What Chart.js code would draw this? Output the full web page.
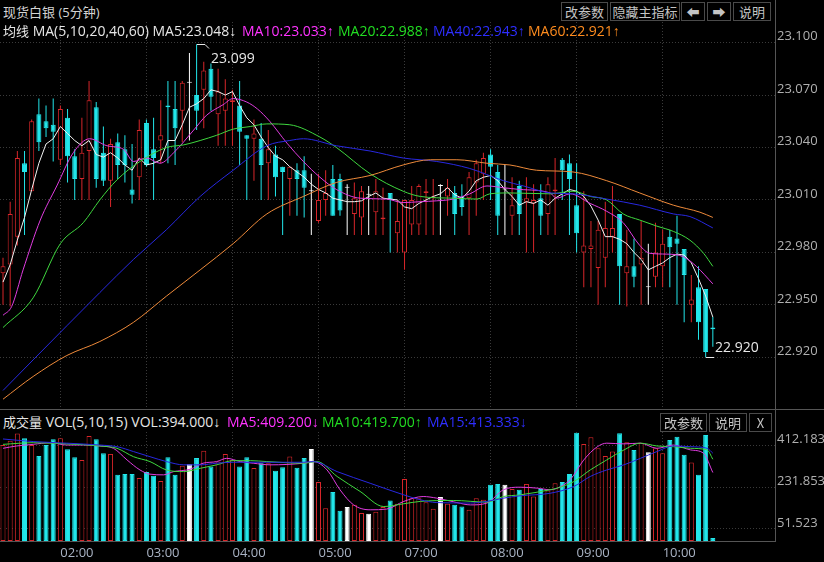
<!DOCTYPE html>
<html>
<head>
<meta charset="utf-8">
<script src="https://cdn.jsdelivr.net/npm/chart.js@4.4.1/dist/chart.umd.min.js"></script>
<style>
  html, body { margin: 0; padding: 0; background: #000; }
  body { width: 824px; height: 562px; position: relative; overflow: hidden;
         font-family: "Open Sans", "Liberation Sans", "Noto Sans CJK SC", sans-serif; color: #dcdcdc; }
  canvas { position: absolute; left: 0; }
  .t { position: absolute; white-space: nowrap; font-size: 14px; height: 20px; line-height: 20px; }
  .t .cn { font-size: 13px; font-family: "Noto Sans CJK SC", sans-serif; }
  .btn { position: absolute; height: 19px; line-height: 17px; border: 1px solid #4a4a4a; color: #c4c4c4;
         font-size: 13px; text-align: center; box-sizing: border-box; font-family: "Noto Sans CJK SC", sans-serif; }
  .ln { position: absolute; background: #555; }
</style>
</head>
<body>
<canvas id="main" width="824" height="387" style="top:22px"></canvas>
<canvas id="vol" width="824" height="130" style="top:432px"></canvas>

<div class="ln" style="left:775px;top:0;width:1px;height:541px"></div>
<div class="ln" style="left:0;top:409px;width:824px;height:1px"></div>
<div class="ln" style="left:0;top:541px;width:776px;height:1px"></div>

<div class="t" style="left:3px;top:2px;color:#d4d4d4;font-size:13px"><span class="cn">现货白银</span> (5<span class="cn">分钟</span>)</div>
<div class="btn" style="left:561px;top:2px;width:47px">改参数</div>
<div class="btn" style="left:610px;top:2px;width:70px">隐藏主指标</div>
<div class="btn" style="left:681px;top:2px;width:24px">⬅</div>
<div class="btn" style="left:707px;top:2px;width:24px">➡</div>
<div class="btn" style="left:733px;top:2px;width:38px">说明</div>

<div class="t" style="left:3px;top:21px;color:#e6e6e6"><span class="cn">均线</span> MA(5,10,20,40,60) MA5:23.048↓</div>
<div class="t" style="left:242px;top:21px;color:#ff33ff">MA10:23.033↑</div>
<div class="t" style="left:338px;top:21px;color:#22dd22">MA20:22.988↑</div>
<div class="t" style="left:433px;top:21px;color:#2e2eff">MA40:22.943↑</div>
<div class="t" style="left:528px;top:21px;color:#ff8c1e">MA60:22.921↑</div>

<div class="t" style="left:3px;top:412px;color:#e6e6e6"><span class="cn">成交量</span> VOL(5,10,15) VOL:394.000↓</div>
<div class="t" style="left:227px;top:412px;color:#ff33ff">MA5:409.200↓</div>
<div class="t" style="left:322px;top:412px;color:#22dd22">MA10:419.700↑</div>
<div class="t" style="left:427px;top:412px;color:#2e2eff">MA15:413.333↓</div>
<div class="btn" style="left:660px;top:413px;width:47px">改参数</div>
<div class="btn" style="left:709px;top:413px;width:38px">说明</div>
<div class="btn" style="left:749px;top:413px;width:23px">X</div>

<script>
// 5-minute candles, oldest first
const open = [22.968, 22.973, 22.989, 23.031, 23.015, 23.059, 23.055, 23.053, 23.033, 23.057,
  23.035, 23.022, 23.038, 23.063, 23.037, 23.021, 23.043, 23.039, 23.016, 23.023,
  23.054, 23.039, 23.044, 23.064, 23.062, 23.061, 23.077, 23.070, 23.073, 23.085,
  23.059, 23.061, 23.066, 23.064, 23.047, 23.045, 23.045, 23.031, 23.036, 23.029,
  23.022, 23.027, 23.027, 23.015, 22.998, 23.010, 23.022, 23.022, 23.017, 23.002,
  23.000, 23.013, 23.003, 22.999, 23.014, 22.991, 22.980, 22.996, 22.996, 23.014,
  23.011, 23.018, 23.012, 23.014, 23.012, 23.011, 23.020, 23.025, 23.036, 23.026,
  23.016, 23.001, 23.018, 23.009, 23.008, 23.011, 23.002, 23.015, 23.033, 23.031,
  23.007, 22.980, 22.982, 22.971, 22.977, 22.989, 23.002, 22.968, 22.972, 22.973,
  22.960, 22.966, 22.972, 22.989, 22.988, 22.982, 22.950, 22.960, 22.959, 22.937];
const high = [22.977, 23.009, 23.038, 23.038, 23.056, 23.068, 23.064, 23.068, 23.064, 23.062,
  23.039, 23.057, 23.078, 23.066, 23.052, 23.045, 23.048, 23.047, 23.042, 23.056,
  23.056, 23.057, 23.067, 23.078, 23.078, 23.078, 23.094, 23.099, 23.089, 23.088,
  23.085, 23.079, 23.073, 23.078, 23.047, 23.056, 23.054, 23.050, 23.041, 23.029,
  23.029, 23.031, 23.035, 23.025, 23.025, 23.027, 23.030, 23.025, 23.019, 23.020,
  23.018, 23.018, 23.022, 23.017, 23.014, 23.010, 23.010, 23.018, 23.019, 23.022,
  23.022, 23.019, 23.022, 23.018, 23.019, 23.026, 23.033, 23.037, 23.039, 23.030,
  23.030, 23.023, 23.021, 23.023, 23.019, 23.019, 23.023, 23.034, 23.034, 23.036,
  23.031, 23.015, 22.998, 22.998, 23.009, 23.018, 23.002, 22.993, 22.988, 22.998,
  22.985, 22.997, 22.993, 22.993, 23.001, 22.982, 22.967, 22.972, 22.959, 22.943];
const low = [22.950, 22.949, 22.984, 22.990, 23.015, 23.038, 23.046, 23.032, 23.030, 23.020,
  23.010, 23.010, 23.010, 23.017, 23.018, 23.006, 23.022, 23.020, 23.008, 23.010,
  23.029, 23.010, 23.031, 23.031, 23.030, 23.043, 23.044, 23.050, 23.051, 23.061,
  23.041, 23.041, 23.041, 23.030, 23.010, 23.021, 23.010, 23.010, 23.012, 22.990,
  23.001, 23.001, 23.000, 22.990, 22.997, 23.001, 23.001, 23.001, 22.990, 22.990,
  22.990, 22.990, 22.990, 22.990, 22.980, 22.980, 22.970, 22.990, 22.990, 22.990,
  22.990, 22.990, 23.001, 22.990, 23.001, 22.990, 23.001, 23.010, 23.010, 22.990,
  22.990, 22.990, 22.990, 22.980, 22.980, 22.990, 22.990, 22.990, 23.010, 22.990,
  22.980, 22.960, 22.960, 22.950, 22.960, 22.980, 22.950, 22.949, 22.960, 22.950,
  22.950, 22.960, 22.960, 22.960, 22.950, 22.940, 22.940, 22.930, 22.920, 22.926];
const close = [22.972, 23.002, 23.034, 23.026, 23.055, 23.043, 23.051, 23.049, 23.062, 23.035,
  23.022, 23.037, 23.067, 23.022, 23.021, 23.042, 23.030, 23.030, 23.013, 23.050,
  23.030, 23.034, 23.047, 23.063, 23.051, 23.077, 23.077, 23.061, 23.084, 23.069,
  23.072, 23.068, 23.067, 23.049, 23.045, 23.048, 23.030, 23.039, 23.023, 23.026,
  23.029, 23.022, 23.017, 23.015, 23.010, 23.014, 23.001, 23.004, 23.017, 23.011,
  23.015, 23.013, 23.015, 23.000, 23.010, 22.998, 23.010, 23.010, 23.018, 23.015,
  23.012, 23.018, 23.017, 23.002, 23.006, 23.023, 23.031, 23.034, 23.029, 23.001,
  23.016, 23.007, 23.002, 23.011, 23.010, 23.001, 23.019, 23.016, 23.027, 23.022,
  22.991, 22.984, 22.984, 22.993, 22.994, 22.994, 22.972, 22.972, 22.966, 22.977,
  22.960, 22.980, 22.985, 22.983, 22.985, 22.967, 22.953, 22.940, 22.923, 22.936];
const volume = [412, 430, 462, 441, 412, 365, 412, 437, 441, 394,
  360, 348, 451, 437, 377, 374, 284, 288, 288, 270,
  296, 280, 258, 360, 284, 323, 330, 356, 387, 320,
  341, 374, 348, 320, 360, 313, 334, 334, 302, 317,
  363, 315, 356, 395, 253, 141, 210, 130, 146, 156,
  120, 117, 126, 146, 174, 160, 266, 184, 184, 166,
  138, 189, 160, 156, 148, 134, 184, 177, 241, 245,
  241, 223, 220, 245, 191, 223, 217, 248, 253, 288,
  465, 416, 445, 398, 365, 384, 463, 424, 391, 422,
  381, 398, 377, 434, 448, 370, 337, 284, 455, 13];

// moving averages (x = candle index)
const ma5 = [22.963, 22.973, 22.987, 23.000, 23.016, 23.031, 23.042, 23.045, 23.052, 23.048,
  23.044, 23.041, 23.044, 23.036, 23.0345, 23.037, 23.034, 23.030, 23.027, 23.034,
  23.030, 23.031, 23.033, 23.044, 23.044, 23.053, 23.063, 23.065, 23.068, 23.073,
  23.072, 23.070, 23.072, 23.064, 23.057, 23.053, 23.046, 23.040, 23.035, 23.033,
  23.029, 23.026, 23.023, 23.019, 23.016, 23.014, 23.011, 23.010, 23.009, 23.009,
  23.0095, 23.012, 23.014, 23.011, 23.0105, 23.010, 23.006, 23.005, 23.008, 23.010,
  23.012, 23.0135, 23.017, 23.013, 23.011, 23.015, 23.021, 23.023, 23.024, 23.021,
  23.016, 23.012, 23.007, 23.009, 23.008, 23.010, 23.007, 23.011, 23.0135, 23.016,
  23.015, 23.012, 23.0065, 22.9985, 22.989, 22.989, 22.9875, 22.985, 22.980, 22.976,
  22.970, 22.972, 22.974, 22.977, 22.979, 22.9785, 22.974, 22.965, 22.955, 22.943];
const ma10X = [0, 1.2, 2.8, 5.2, 7.5, 9.8, 12.1, 14.5, 16.8, 18.2, 20.0, 21.9, 23.8, 26.6, 28.4, 30.7,
  32.1, 34, 35.5, 37.2, 39.6, 41.9, 44.2, 46.5, 49.8, 53.5, 55.8, 58.2, 60.5, 62.8, 65.1, 67.5,
  69.8, 72.1, 76.3, 77.2, 79.1, 81.9, 84.2, 86.5, 88.8, 90.2, 92.6, 94.9, 96.7, 99];
const ma10 = [22.944, 22.949, 22.970, 22.9985, 23.018, 23.037, 23.045, 23.041, 23.039, 23.032,
  23.034, 23.031, 23.037, 23.050, 23.0585, 23.0645, 23.068, 23.066, 23.062, 23.055,
  23.0425, 23.032, 23.023, 23.016, 23.011, 23.0105, 23.0085, 23.009, 23.0095, 23.0105,
  23.0135, 23.018, 23.017, 23.016, 23.014, 23.011, 23.0135, 23.008, 23.0035, 22.997,
  22.984, 22.9795, 22.979, 22.9775, 22.972, 22.962];
const ma20X = [0, 4.2, 8.0, 11.2, 13.5, 15.9, 19.1, 22.8, 25.2, 27.5, 29.8, 32.1, 34.5, 36.8, 40,
  44.2, 46.5, 51.2, 55.8, 58.2, 62.8, 66.1, 67.9, 70.7, 76.3, 79.5, 81.9, 84.2, 86.5, 88.8,
  91.2, 93.5, 95.8, 97.7, 99];
const ma20 = [22.937, 22.954, 22.985, 22.997, 23.010, 23.0215, 23.032, 23.040, 23.0415, 23.044,
  23.047, 23.0505, 23.052, 23.0535, 23.053, 23.046, 23.040, 23.025, 23.015, 23.012,
  23.011, 23.0105, 23.0135, 23.014, 23.0135, 23.015, 23.012, 23.010, 23.002, 22.9985,
  22.995, 22.992, 22.987, 22.9795, 22.972];
const ma40X = [0, 4.2, 8.9, 13.5, 18.2, 22.8, 27.5, 32.1, 36.8, 40, 41.9, 46.5, 51.2, 55.8, 60.5,
  65.1, 69.8, 72.6, 76.3, 79.5, 84.2, 88.8, 93.5, 95.8, 99];
const ma40 = [22.901, 22.9185, 22.938, 22.957, 22.976, 22.993, 23.012, 23.027, 23.041, 23.044,
  23.045, 23.041, 23.038, 23.034, 23.032, 23.028, 23.021, 23.018, 23.014, 23.0135,
  23.0105, 23.007, 23.002, 23.0005, 22.994];
const ma60X = [0, 4.2, 8.9, 13.5, 18.2, 22.8, 27.5, 32.1, 36.8, 41.9, 46.5, 51.2, 55.8, 59.6, 63.3,
  67.5, 70.7, 74.4, 79.5, 84.2, 88.8, 93.5, 97.2, 99];
const ma60 = [22.896, 22.909, 22.921, 22.929, 22.940, 22.955, 22.970, 22.985, 23.002, 23.012,
  23.020, 23.024, 23.030, 23.033, 23.033, 23.031, 23.030, 23.027, 23.026, 23.021,
  23.014, 23.007, 23.003, 23.000];

const vma5X = [0, 1.9, 4.2, 6.6, 8.9, 11.2, 13.5, 15.4, 17.3, 19.1, 20.5, 22.4, 23.8, 26.1, 27.9,
  29.8, 31.2, 33.1, 34.9, 37.3, 41.9, 43.3, 45.2, 47.0, 48.9, 51.2, 53.5, 55.9, 58.6, 60.5,
  63.3, 65.2, 67.5, 69.8, 72.1, 74.5, 76.3, 77.3, 79.1, 81.0, 82.9, 84.2, 86.6, 88.9, 91.2,
  93.5, 95.9, 97.7, 99];
const vma5 = [398, 408, 415, 422, 412, 412, 408, 398, 348, 305, 287, 284, 298, 308, 334, 341, 355,
  341, 334, 327, 334, 341, 305, 220, 155, 134, 137, 170, 191, 184, 165, 155, 163, 220, 231,
  227, 220, 227, 263, 348, 405, 420, 417, 420, 398, 412, 391, 377, 294];
const vma10X = [0, 4.2, 8.9, 13.5, 15.9, 18.2, 20.5, 22.8, 25.2, 27.5, 29.8, 32.1, 34.5, 36.8,
  41.9, 43.8, 46.6, 49.8, 53.1, 55.9, 58.2, 62.8, 67.5, 69.8, 72.1, 76.3, 77.3, 79.6, 81.9,
  84.2, 86.6, 88.9, 91.2, 93.5, 95.9, 98.2, 99];
const vma10 = [415, 422, 417, 408, 398, 362, 341, 305, 298, 312, 327, 345, 345, 341, 334, 341,
  277, 213, 148, 160, 170, 174, 167, 191, 198, 220, 227, 255, 305, 348, 391, 420, 408, 405,
  398, 391, 351];
const vma15X = [0, 4.2, 8.9, 13.5, 15.9, 18.2, 20.5, 22.8, 25.2, 27.5, 29.8, 32.1, 36.8, 41.9,
  43.3, 46.6, 51.2, 55.9, 58.2, 60.5, 65.2, 67.5, 69.8, 72.1, 76.3, 79.6, 81.9, 84.2, 86.6,
  88.9, 91.2, 93.5, 95.9, 98.2, 99];
const vma15 = [438, 427, 420, 412, 405, 384, 362, 341, 327, 327, 334, 338, 338, 338, 341, 298,
  248, 198, 177, 165, 163, 170, 184, 194, 205, 234, 277, 305, 327, 355, 384, 408, 405, 398, 377];

const hourIdx = [8, 20, 32, 44, 56, 68, 80, 92];
const hourLabels = ['02:00', '03:00', '04:00', '05:00', '07:00', '08:00', '09:00', '10:00'];
const priceTicks = [22.920, 22.950, 22.980, 23.010, 23.040, 23.070, 23.100];
const volTicks = [51.523, 231.853, 412.183];

const UP = '#d8262a', DOWN = '#22e6ea', FLAT = '#ffffff';
const GRID = '#3a3a3a';
Chart.defaults.font.family = '"Open Sans", "Noto Sans CJK SC", sans-serif';

const idx = close.map((_, i) => i);
const dirColor = idx.map(i => close[i] > open[i] ? UP : close[i] < open[i] ? DOWN : FLAT);
const fillColor = idx.map(i => dirColor[i] === UP ? '#000' : dirColor[i]);

const xMin = -0.42, xMax = 107.67;

function xScale(showLabels) {
  return {
    type: 'linear', min: xMin, max: xMax, offset: false,
    grid: { color: GRID, drawTicks: false, offset: false },
    border: { display: false, dash: [1, 2] },
    ticks: {
      display: showLabels, autoSkip: false, maxRotation: 0, align: 'start', padding: 4,
      color: '#a9b3c4', font: { size: 13 },
      callback: v => hourLabels[hourIdx.indexOf(v)]
    },
    afterBuildTicks: s => { s.ticks = hourIdx.map(v => ({ value: v })); },
    afterFit: s => { s.height = showLabels ? 21 : 0; s.paddingLeft = 0; s.paddingRight = 0; }
  };
}

function yScale(min, max, ticks) {
  return {
    type: 'linear', position: 'right', min, max,
    grid: { color: GRID, drawTicks: false },
    border: { display: false, dash: [1, 2] },
    ticks: { color: '#b0b0b0', font: { size: 13 }, padding: 2, labelOffset: -6,
      callback: v => v.toFixed(3) },
    afterBuildTicks: s => { s.ticks = ticks.map(v => ({ value: v })); },
    afterFit: s => { s.width = 49; s.paddingTop = 0; s.paddingBottom = 0; }
  };
}

function line(xs, ys, color, smooth) {
  return {
    type: 'line', data: xs.map((x, k) => ({ x, y: ys[k] })),
    borderColor: color, borderWidth: 1, pointRadius: 0, order: 0,
    cubicInterpolationMode: smooth ? 'monotone' : 'default', tension: 0
  };
}

const hiLo = {
  id: 'hiLo',
  afterDatasetsDraw(chart) {
    const { ctx, scales: { x, y } } = chart;
    let hi = 0, lo = 0;
    idx.forEach(i => { if (high[i] > high[hi]) hi = i; if (low[i] < low[lo]) lo = i; });
    ctx.save();
    ctx.strokeStyle = '#e8e8e8';
    ctx.fillStyle = '#e8e8e8';
    ctx.lineWidth = 1;
    ctx.font = '14px "Open Sans", sans-serif';
    ctx.textBaseline = 'middle';
    let px = Math.round(x.getPixelForValue(hi)), py = Math.round(y.getPixelForValue(high[hi])) + 0.5;
    ctx.beginPath();
    ctx.moveTo(px, py); ctx.lineTo(px + 8, py); ctx.lineTo(px + 12, py + 4);
    ctx.stroke();
    ctx.fillText(high[hi].toFixed(3), px + 14, py + 15);
    px = Math.round(x.getPixelForValue(lo)); py = Math.round(y.getPixelForValue(low[lo])) + 0.5;
    ctx.beginPath();
    ctx.moveTo(px, py); ctx.lineTo(px + 8, py);
    ctx.stroke();
    ctx.fillText(low[lo].toFixed(3), px + 9, py - 9);
    ctx.restore();
  }
};

const base = {
  responsive: false, animation: false, events: [],
  layout: { padding: 0 },
  plugins: { legend: { display: false }, tooltip: { enabled: false } }
};

new Chart(document.getElementById('main'), {
  type: 'bar',
  data: {
    datasets: [
      line(ma60X, ma60, '#ee8a3a', true),
      line(ma40X, ma40, '#2828e0', true),
      line(ma20X, ma20, '#3fd83f', true),
      line(ma10X, ma10, '#e03ce0', true),
      line(idx, ma5, '#f2f2f2', false),
      {
        data: idx.map(i => ({ x: i, y: [open[i], close[i]] })),
        backgroundColor: fillColor, borderColor: dirColor, borderWidth: 1,
        borderSkipped: false, inflateAmount: 0, barThickness: 5, minBarLength: 1,
        grouped: false, order: 1
      },
      {
        data: idx.map(i => ({ x: i, y: [low[i], high[i]] })),
        backgroundColor: dirColor, borderWidth: 0, inflateAmount: 0,
        barThickness: 1, grouped: false, order: 2
      }
    ]
  },
  options: { ...base, scales: { x: xScale(false), y: yScale(22.8904, 23.1118, priceTicks) } },
  plugins: [hiLo]
});

new Chart(document.getElementById('vol'), {
  type: 'bar',
  data: {
    datasets: [
      line(vma15X, vma15, '#2828e0', true),
      line(vma10X, vma10, '#3fd83f', true),
      line(vma5X, vma5, '#e03ce0', true),
      {
        data: idx.map(i => ({ x: i, y: volume[i] })),
        backgroundColor: fillColor, borderColor: dirColor, borderWidth: 1,
        borderSkipped: false, inflateAmount: 0, barThickness: 5,
        grouped: false, order: 1
      }
    ]
  },
  options: { ...base, scales: { x: xScale(true), y: yScale(0, 468, volTicks) } }
});
</script>
</body>
</html>
